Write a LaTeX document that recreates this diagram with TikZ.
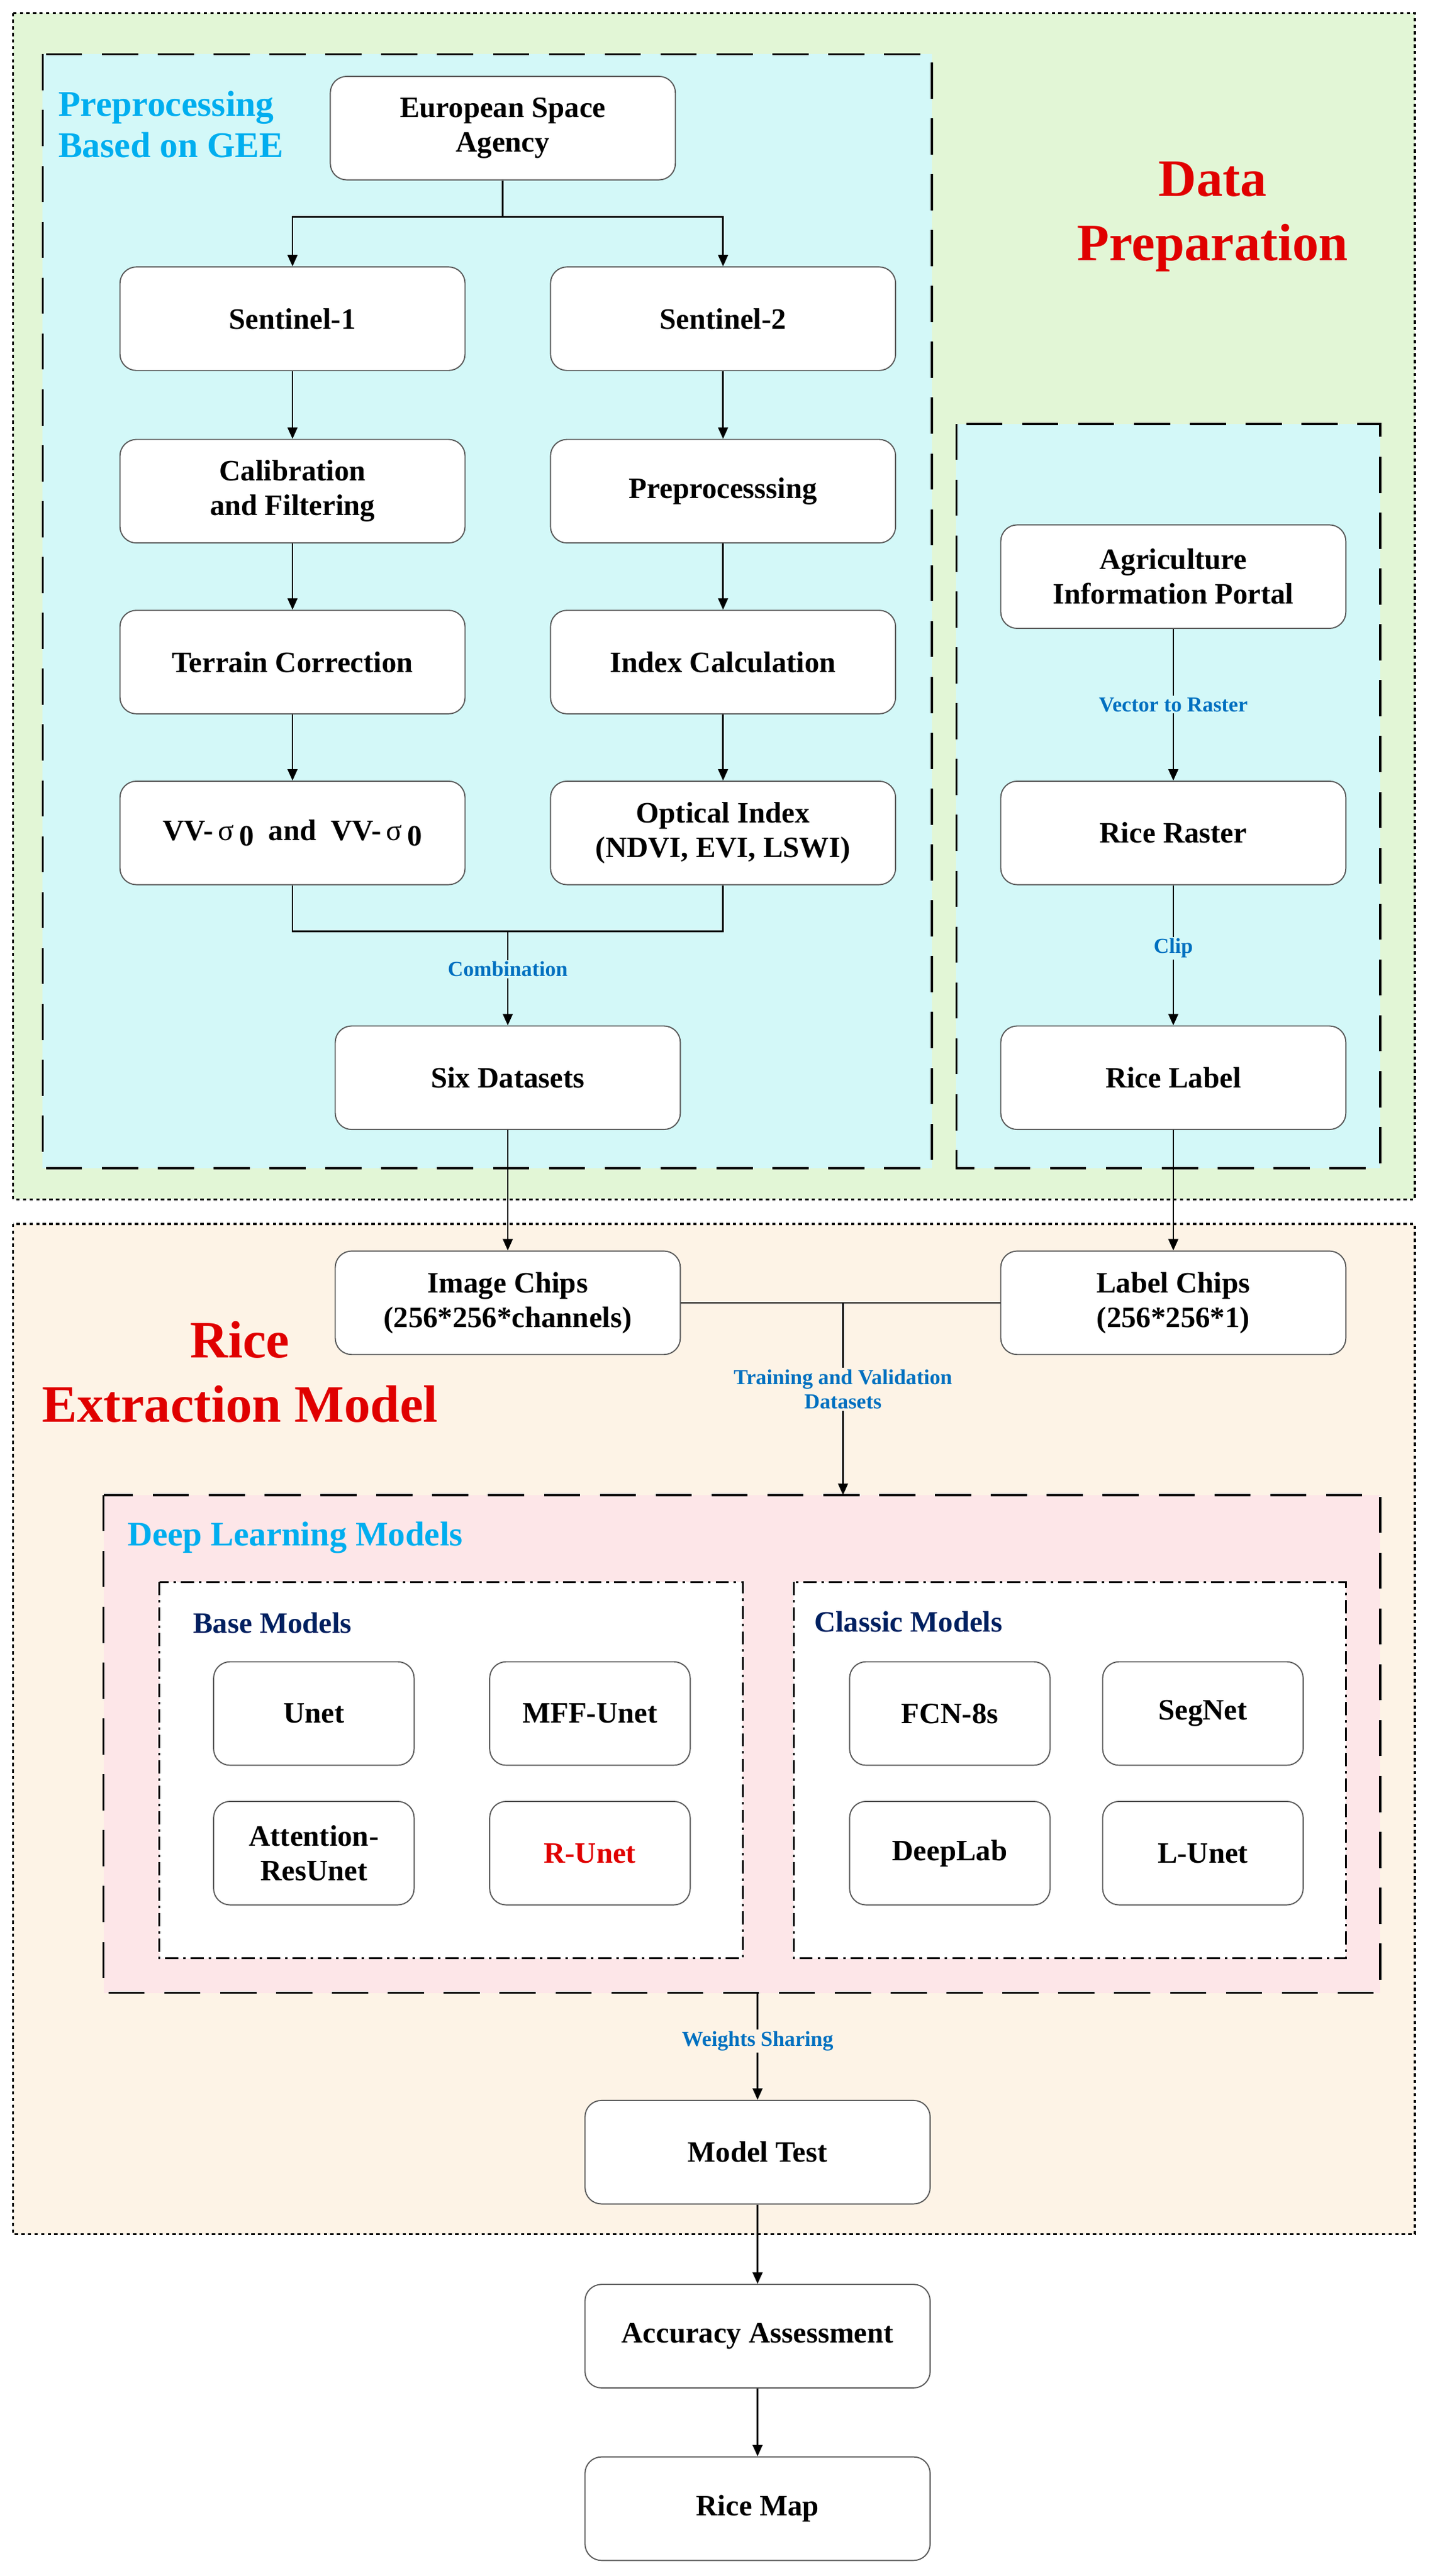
\documentclass[tikz,border=0pt]{standalone}
\usepackage{fontspec}
\setmainfont{Liberation Serif}
\usetikzlibrary{arrows.meta}
\definecolor{gbg}{HTML}{E2F6D6}
\definecolor{cbg}{HTML}{D3F8F8}
\definecolor{pbg}{HTML}{FDF3E6}
\definecolor{kbg}{HTML}{FDE6E8}
\definecolor{cy}{HTML}{00AEEF}
\definecolor{lb}{HTML}{0070C0}
\definecolor{nv}{HTML}{002060}
\definecolor{rd}{HTML}{E00000}
\begin{document}
\begin{tikzpicture}[x=1pt,y=-1pt,
 box/.style={draw=gray!70!black,fill=white,rounded corners=10pt,minimum width=210pt,minimum height=63pt,align=center,font=\fontsize{18}{21}\selectfont\bfseries,line width=0.7pt},
 sbox/.style={box,minimum width=122pt},
 arr/.style={-{Triangle[length=7pt,width=6pt]},line width=1pt},
 ln/.style={line width=1pt},
 lab/.style={font=\fontsize{13}{15}\selectfont\bfseries,text=lb,align=center,fill=cbg,inner sep=1pt},
 dots/.style={dash pattern=on 2pt off 2pt,line width=1.2pt},
 ldash/.style={dash pattern=on 22pt off 12pt,line width=1.3pt},
 dd/.style={dash pattern=on 8pt off 3pt on 1.5pt off 3pt,line width=1pt}]
\useasboundingbox (0,0) rectangle (870,1568);
\fill[white] (0,0) rectangle (870,1568);
\draw[dots,fill=gbg] (8,8) rectangle (861,730);
\draw[ldash,fill=cbg] (26,33) rectangle (567,711);
\draw[ldash,fill=cbg] (582,258) rectangle (840,711);
\draw[dots,fill=pbg] (8,745) rectangle (861,1360);
\draw[ldash,fill=kbg] (63,910) rectangle (840,1213);
\draw[dd,fill=white] (97,963) rectangle (452,1192);
\draw[dd,fill=white] (483,963) rectangle (819,1192);

\node[font=\fontsize{22}{25}\selectfont\bfseries,text=cy,align=left,anchor=north west] (t1) at (32,52) {Preprocessing\\Based on GEE};
\node[font=\fontsize{32}{39}\selectfont\bfseries,text=rd,align=center] (t2) at (738,132) {Data\\Preparation};
\node[font=\fontsize{32}{39}\selectfont\bfseries,text=rd,align=center] (t3) at (146,835) {Rice\\Extraction Model};
\node[font=\fontsize{21}{24}\selectfont\bfseries,text=cy,anchor=west] (t4) at (74,936) {Deep Learning Models};
\node[font=\fontsize{18}{21}\selectfont\bfseries,text=nv,anchor=west] (t5) at (114,988) {Base Models};
\node[font=\fontsize{18}{21}\selectfont\bfseries,text=nv,anchor=west] (t6) at (492,987) {Classic Models};

\node[box] (esa) at (306,78) {European Space\\Agency};
\node[box] (s1) at (178,194) {Sentinel-1};
\node[box] (s2) at (440,194) {Sentinel-2};
\node[box] (cal) at (178,299) {Calibration\\and Filtering};
\node[box] (pre) at (440,299) {Preprocesssing};
\node[box] (ter) at (178,403) {Terrain Correction};
\node[box] (idx) at (440,403) {Index Calculation};
\node[box] (vv) at (178,507) {VV-\,{\mdseries σ}\,\raisebox{-0.4ex}{0}\ \ and\ \ VV-\,{\mdseries σ}\,\raisebox{-0.4ex}{0}};
\node[box] (opt) at (440,507) {Optical Index\\(NDVI, EVI, LSWI)};
\node[box] (six) at (309,656) {Six Datasets};
\node[box] (agr) at (714,351) {Agriculture\\Information Portal};
\node[box] (rr) at (714,507) {Rice Raster};
\node[box] (rl) at (714,656) {Rice Label};
\node[box] (ic) at (309,793) {Image Chips\\(256*256*channels)};
\node[box] (lc) at (714,793) {Label Chips\\(256*256*1)};
\node[sbox] (unet) at (191,1043) {Unet};
\node[sbox] (mff) at (359,1043) {MFF-Unet};
\node[sbox] (att) at (191,1128) {Attention-\\ResUnet};
\node[sbox,text=rd] (runet) at (359,1128) {R-Unet};
\node[sbox] (fcn) at (578,1043) {FCN-8s};
\node[sbox] (seg) at (732,1043) {SegNet};
\node[sbox] (dl) at (578,1128) {DeepLab};
\node[sbox] (lu) at (732,1128) {L-Unet};
\node[box] (mt) at (461,1310) {Model Test};
\node[box] (acc) at (461,1422) {Accuracy Assessment};
\node[box] (map) at (461,1527) {Rice Map};

\coordinate (j1) at (306,132);
\draw[ln] (esa.south) -- (j1);
\draw[arr] (j1) -| (s1.north);
\draw[arr] (j1) -| (s2.north);
\draw[arr] (s1) -- (cal); \draw[arr] (cal) -- (ter); \draw[arr] (ter) -- (vv);
\draw[arr] (s2) -- (pre); \draw[arr] (pre) -- (idx); \draw[arr] (idx) -- (opt);
\coordinate (j2) at (309,567);
\draw[ln] (vv.south) |- (j2) -| (opt.south);
\draw[arr] (j2) -- node[lab,pos=0.4] {Combination} (six.north);
\draw[arr] (six) -- (ic);
\draw[arr] (agr) -- node[lab] {Vector to Raster} (rr);
\draw[arr] (rr) -- node[lab,pos=0.45] {Clip} (rl);
\draw[arr] (rl) -- (lc);
\coordinate (j3) at (513,793);
\coordinate (pk) at (513,910);
\draw[ln] (ic.east) -- (lc.west);
\draw[arr] (j3) -- node[lab,fill=pbg,pos=0.45] {Training and Validation\\Datasets} (pk);
\coordinate (pb) at (461,1213);
\draw[arr] (pb) -- node[lab,fill=pbg,pos=0.45] {Weights Sharing} (mt.north);
\draw[arr] (mt) -- (acc);
\draw[arr] (acc) -- (map);
\end{tikzpicture}
\end{document}
